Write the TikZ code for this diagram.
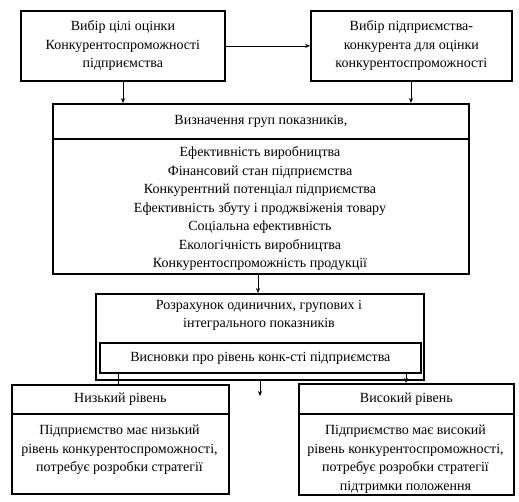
\documentclass[tikz,border=0pt]{standalone}
\usepackage{fontspec}
\setmainfont{Liberation Serif}
\usetikzlibrary{arrows.meta}
\begin{document}
\begin{tikzpicture}[x=1pt,y=-1pt,
  box/.style={draw,line width=1.8pt,inner sep=0pt,anchor=north west,align=center,font=\fontsize{14}{18.5}\selectfont},
  txt/.style={inner sep=0pt,align=center,font=\fontsize{14}{18.5}\selectfont},
  arr/.style={line width=0.6pt,-{Stealth[length=5pt,width=4pt]}},
  ln/.style={line width=0.6pt}]
\useasboundingbox (0,0) rectangle (519,501);
% top boxes
\node[box,minimum width=204pt,minimum height=70pt] (b1) at (20,10) {Вибір цілі оцінки\\Конкурентоспроможності\\підприємства};
\node[box,minimum width=201pt,minimum height=70pt] (b2) at (310,10) {Вибір підприємства-\\конкурента для оцінки\\конкурентоспроможності};
% indicator groups box
\node[box,minimum width=416pt,minimum height=35pt] (b3h) at (52,103) {Визначення груп показників,};
\node[box,minimum width=416pt,minimum height=135pt,anchor=north west] (b3b) at (52,138) {};
\node[txt,anchor=north] (b3t) at (260,146.5) {Ефективність виробництва\\Фінансовий стан підприємства\\Конкурентний потенціал підприємства\\Ефективність збуту і проджвіженія товару\\Соціальна ефективність\\Екологічність виробництва\\Конкурентоспроможність продукції};
% calculation box
\node[box,minimum width=328pt,minimum height=86pt] (b4) at (95,293) {};
\node[txt,anchor=north] (b4t) at (259,300) {Розрахунок одиничних, групових і\\інтегрального показників};
\node[box,minimum width=321pt,minimum height=30pt] (b5) at (99,342) {Висновки про рівень конк-сті підприємства};
% bottom boxes
\node[box,minimum width=217pt,minimum height=29pt] (lh) at (11,384) {Низький рівень};
\node[box,minimum width=217pt,minimum height=80pt] (lb) at (11,413) {};
\node[txt,anchor=north] (lt) at (119.5,425) {Підприємство має низький\\рівень конкурентоспроможності,\\потребує розробки стратегії};
\node[box,minimum width=215pt,minimum height=30pt] (rh) at (298,383) {Високий рівень};
\node[box,minimum width=215pt,minimum height=81pt] (rb) at (298,413) {};
\node[txt,anchor=north] (rt) at (405.5,425) {Підприємство має високий\\рівень конкурентоспроможності,\\потребує розробки стратегії\\підтримки положення};
% connectors
\draw[arr] (b1.east) -- (b2.west);
\draw[arr] (b1.south -| 123,0) -- (b3h.north -| 123,0);
\draw[arr] (b2.south -| 411,0) -- (b3h.north -| 411,0);
\draw[arr] (b3b.south -| 258,0) -- (b4.north -| 258,0);
\coordinate (c1) at (260,396);
\draw[arr] (b4.south -| 260,0) -- (c1);
\draw[ln] (b5.south -| 118,0) -- (lh.north -| 118,0);
\draw[arr] (b5.south -| 406,0) -- (rh.north -| 406,0);
\end{tikzpicture}
\end{document}
